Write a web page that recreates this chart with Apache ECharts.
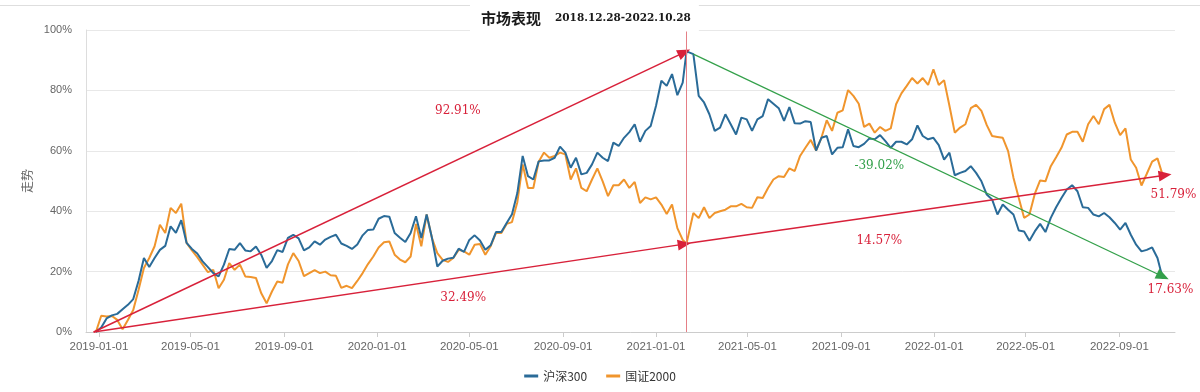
<!DOCTYPE html>
<html>
<head>
<meta charset="utf-8">
<script src="https://cdn.jsdelivr.net/npm/echarts@6/dist/echarts.min.js"></script>
<style>
html,body{margin:0;padding:0;background:#fff;}
#chart{width:1200px;height:392px;}
</style>
</head>
<body>
<div id="chart"></div>
<script>
// ---- data ----
const startDate = '2018-12-28';            // first weekly observation
const dateOverrides = {111: '2021-02-10'}; // last trading day before Spring Festival
const hs300 = [
  0, 1.5, 4.5, 5.5, 6.0, 7.5, 9.0, 10.9, 17.0, 24.5,
  21.5, 24.5, 27.2, 28.5, 35.0, 32.8, 37.0, 29.5, 27.5, 26.0,
  23.4, 21.5, 19.5, 18.4, 22.3, 27.5, 27.2, 29.4, 27.0, 26.7,
  28.3, 25.5, 21.2, 23.5, 27.1, 26.5, 31.2, 32.2, 31.0, 27.0,
  28.0, 30.0, 28.9, 30.6, 31.5, 32.2, 29.3, 28.5, 27.5, 29.0,
  32.0, 33.8, 33.9, 37.5, 38.4, 38.2, 32.8, 31.2, 29.8, 32.8,
  38.3, 31.1, 38.9, 31.1, 21.7, 23.6, 24.3, 24.6, 27.6, 26.5,
  30.5, 32.0, 30.3, 27.2, 28.7, 33.1, 33.1, 36.1, 39.0, 46.0,
  58.3, 51.6, 50.5, 56.5, 56.8, 56.8, 57.7, 61.4, 59.4, 54.4,
  57.7, 52.2, 52.7, 55.5, 59.4, 57.7, 56.6, 62.7, 61.6, 64.3,
  66.2, 68.8, 63.0, 66.6, 68.2, 74.9, 83.2, 81.5, 85.4, 78.4,
  82.6, 92.91, 92.0, 78.2, 76.0, 72.1, 66.6, 67.7, 72.1, 68.8,
  65.4, 71.0, 70.4, 66.6, 70.4, 71.5, 77.1, 75.6, 74.1, 69.9,
  74.5, 69.1, 69.0, 69.8, 69.5, 60.1, 64.3, 64.9, 58.8, 61.0,
  61.2, 67.1, 61.6, 61.2, 62.3, 64.1, 63.8, 65.2, 63.2, 61.0,
  63.0, 63.0, 62.1, 63.8, 68.4, 64.9, 63.8, 64.3, 61.9, 57.1,
  59.4, 51.9, 52.7, 53.3, 54.9, 52.7, 49.9, 45.5, 43.9, 38.9,
  42.2, 40.5, 38.9, 33.6, 33.3, 30.2, 33.3, 35.8, 33.1, 37.8,
  41.3, 44.4, 47.2, 48.6, 46.6, 41.3, 41.1, 38.9, 38.3, 39.4,
  38.0, 36.1, 33.9, 36.1, 32.2, 28.9, 26.7, 27.2, 28.0, 24.5,
  17.63
];
const gz2000 = [
  0, 5.4, 5.1, 5.3, 4.0, 0.9, 4.0, 7.3, 14.0, 21.2,
  24.5, 28.4, 35.5, 32.8, 41.1, 39.4, 42.5, 29.5, 27.0, 24.8,
  22.3, 19.8, 20.6, 14.5, 17.3, 22.8, 20.6, 22.3, 18.4, 18.2,
  17.9, 12.8, 9.5, 13.4, 16.7, 16.3, 22.4, 26.1, 23.5, 18.5,
  19.5, 20.5, 19.5, 20.0, 18.8, 18.6, 14.6, 15.3, 14.5, 16.9,
  19.5, 22.5, 25.0, 28.0, 29.7, 30.0, 25.6, 24.0, 23.1, 25.0,
  35.8, 28.4, 38.9, 31.1, 26.1, 23.9, 23.2, 24.5, 27.2, 26.7,
  25.6, 28.9, 29.1, 25.6, 28.4, 32.8, 32.8, 35.8, 36.4, 43.0,
  55.5, 47.7, 47.7, 56.4, 59.4, 57.7, 58.3, 59.4, 58.8, 50.5,
  54.2, 47.7, 46.6, 50.5, 54.2, 49.9, 45.0, 48.6, 48.6, 50.5,
  47.7, 49.7, 42.7, 44.6, 43.9, 44.6, 42.2, 39.1, 42.2, 34.4,
  30.5, 29.3, 39.4, 37.7, 41.3, 37.7, 39.4, 40.0, 40.5, 41.6,
  41.6, 42.4, 41.3, 41.1, 44.6, 44.4, 47.7, 50.5, 51.6, 51.3,
  54.2, 53.3, 58.3, 61.0, 63.6, 60.1, 64.3, 70.1, 66.6, 72.6,
  73.4, 80.1, 78.2, 75.6, 67.9, 69.0, 66.0, 67.9, 66.6, 67.4,
  75.4, 79.0, 81.5, 84.1, 82.3, 84.1, 81.8, 87.0, 81.8, 83.4,
  74.9, 66.0, 67.7, 68.8, 74.1, 75.2, 73.2, 68.5, 64.9, 64.6,
  64.3, 59.9, 51.1, 44.4, 37.8, 38.9, 45.7, 50.2, 49.9, 54.9,
  57.9, 61.0, 65.4, 66.3, 66.3, 63.0, 68.8, 71.5, 68.8, 73.8,
  75.2, 69.3, 65.2, 67.4, 57.1, 54.4, 48.5, 52.4, 56.4, 57.5,
  51.79
];
const seriesNames = ['沪深300', '国证2000'];
const xTickDates = ['2019-01-01','2019-05-01','2019-09-01','2020-01-01','2020-05-01','2020-09-01',
                    '2021-01-01','2021-05-01','2021-09-01','2022-01-01','2022-05-01','2022-09-01'];
const xRange = ['2018-12-15', '2022-11-13'];
const titleMain = '市场表现';
const titleRange = '2018.12.28-2022.10.28';
const yName = '走势';
// annotations (data coordinates)
const peakDate = '2021-02-10';
const upArrows = [
  [['2018-12-25', 0], ['2021-02-07', 92.6]],
  [['2018-12-25', 0], ['2021-02-07', 29.1]],
  [['2021-02-10', 29.3], ['2022-10-31', 51.9]]
];
const downArrows = [
  [['2021-02-19', 92.0], ['2022-10-28', 18.4]]
];
const upLabels = [
  ['92.91%', '2020-04-16', 73.1],
  ['32.49%', '2020-04-23', 11.3],
  ['14.57%', '2021-10-21', 30.2],
  ['51.79%', '2022-11-11', 45.5],
  ['17.63%', '2022-11-07', 13.9]
];
const downLabels = [
  ['-39.02%', '2021-10-21', 55.1]
];

// ---- helpers ----
function ts(s) { const p = s.split('-').map(Number); return new Date(p[0], p[1] - 1, p[2]).getTime(); }
const DAY = 86400000;
const dates = hs300.map((_, k) => dateOverrides[k] ? ts(dateOverrides[k]) : ts(startDate) + k * 7 * DAY);

const RED = '#d8213a', GREEN = '#33a04a', BLUE = '#2a6b98', ORANGE = '#f0952d';

function arrowData(list) {
  return list.map(a => [{coord: [ts(a[0][0]), a[0][1]]}, {coord: [ts(a[1][0]), a[1][1]]}]);
}
function labelData(list, color) {
  return list.map(l => ({
    coord: [ts(l[1]), l[2]],
    label: {formatter: l[0], color: color}
  }));
}
const markPointBase = {
  symbol: 'circle', symbolSize: 0, silent: true,
  label: {show: true, position: 'inside', fontFamily: 'DejaVu Serif', fontSize: 12}
};

const chart = echarts.init(document.getElementById('chart'));
chart.setOption({
  animation: false,
  backgroundColor: '#fff',
  graphic: [{
    type: 'line', z: 0, silent: true,
    shape: {x1: 0, y1: 5.5, x2: 1200, y2: 5.5},
    style: {stroke: '#dedede', lineWidth: 1}
  }],
  title: {
    text: '{a|' + titleMain + '}{b|' + titleRange + '}',
    left: 470, top: 0, z: 10,
    backgroundColor: '#fff',
    padding: [7, 8, 6, 11],
    textStyle: {
      rich: {
        a: {fontFamily: 'Noto Sans CJK SC', fontSize: 15, fontWeight: 'bold', color: '#1a1a1a', lineHeight: 22},
        b: {fontFamily: 'DejaVu Serif', fontSize: 10.5, fontWeight: 'bold', color: '#1a1a1a', padding: [0, 0, 0, 14], lineHeight: 22}
      }
    }
  },
  legend: {
    bottom: 5, left: 'center',
    icon: 'rect', itemWidth: 14, itemHeight: 3, itemGap: 19,
    textStyle: {fontFamily: 'Noto Sans CJK SC', fontSize: 12, color: '#333'},
    data: seriesNames
  },
  grid: {left: 86, right: 25, top: 30, bottom: 60},
  xAxis: {
    type: 'time',
    min: ts(xRange[0]), max: ts(xRange[1]),
    axisLine: {lineStyle: {color: '#cccccc'}},
    axisTick: {show: true, length: 5, lineStyle: {color: '#cccccc'}, customValues: xTickDates.map(ts)},
    axisLabel: {
      customValues: xTickDates.map(ts),
      formatter: '{yyyy}-{MM}-{dd}',
      color: '#666', fontSize: 11.5, fontFamily: 'Liberation Sans', margin: 9
    },
    splitLine: {show: false}
  },
  yAxis: {
    type: 'value', min: 0, max: 100, interval: 20,
    name: yName, nameLocation: 'middle', nameGap: 50,
    nameTextStyle: {color: '#666', fontSize: 12, fontFamily: 'Noto Sans CJK SC'},
    axisLine: {show: true, lineStyle: {color: '#dddddd'}},
    axisTick: {show: false},
    axisLabel: {formatter: '{value}%', color: '#666', fontSize: 11, fontFamily: 'Liberation Sans', margin: 14},
    splitLine: {lineStyle: {color: '#e8e8e8'}}
  },
  series: [
    {
      name: seriesNames[0], type: 'line', showSymbol: false, z: 3,
      data: dates.map((d, i) => [d, hs300[i]]),
      lineStyle: {color: BLUE, width: 2}, itemStyle: {color: BLUE},
      markLine: {
        silent: true, symbol: ['none', 'triangle'], symbolSize: [11, 13],
        label: {show: false}, emphasis: {disabled: true},
        lineStyle: {color: RED, width: 1.5, type: 'solid'},
        data: arrowData(upArrows)
      },
      markPoint: Object.assign({}, markPointBase, {data: labelData(upLabels, RED)})
    },
    {
      name: seriesNames[1], type: 'line', showSymbol: false, z: 2,
      data: dates.map((d, i) => [d, gz2000[i]]),
      lineStyle: {color: ORANGE, width: 2}, itemStyle: {color: ORANGE},
      markLine: {
        silent: true, symbol: ['none', 'none'],
        label: {show: false}, emphasis: {disabled: true},
        lineStyle: {color: '#e57f86', width: 1, type: 'solid'},
        data: [{xAxis: ts(peakDate)}]
      },
      markPoint: Object.assign({}, markPointBase, {data: labelData(downLabels, GREEN)})
    },
    {
      name: 'annotations', type: 'line', data: [], silent: true, z: 4,
      markLine: {
        silent: true, symbol: ['none', 'triangle'], symbolSize: [11, 13],
        label: {show: false}, emphasis: {disabled: true},
        lineStyle: {color: GREEN, width: 1.2, type: 'solid'},
        data: arrowData(downArrows)
      }
    }
  ]
});
</script>
</body>
</html>
